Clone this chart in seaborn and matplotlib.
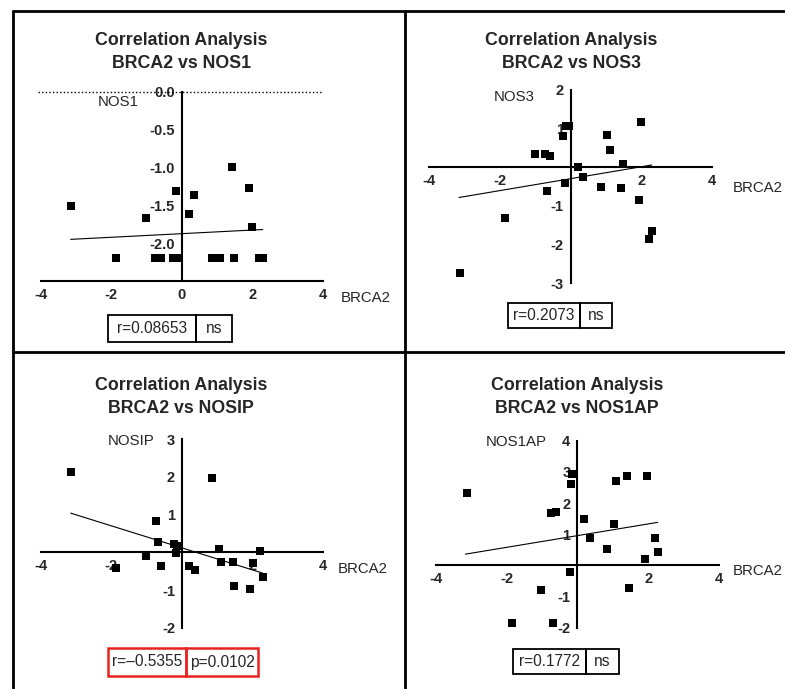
import numpy as np
import seaborn as sns
import matplotlib.pyplot as plt
from matplotlib.lines import Line2D
from matplotlib.patches import Rectangle

# BRCA2 vs NOS1
brca2_nos1 = [-3.15, -1.86, -1.01, -0.75, -0.6, -0.25, -0.1, -0.15, 0.36, 0.21,
              0.85, 1.0, 1.1, 1.43, 1.47, 1.92, 2.0, 2.19, 2.3]
nos1 = [-1.51, -2.19, -1.67, -2.19, -2.19, -2.19, -2.19, -1.31, -1.36, -1.62,
        -2.19, -2.19, -2.19, -0.99, -2.19, -1.27, -1.79, -2.19, -2.19]
fit_nos1_x = [-3.15, 2.3]
fit_nos1_y = [-1.95, -1.82]

# BRCA2 vs NOS3
brca2_nos3 = [-3.13, -1.84, -1.02, -0.72, -0.58, -0.67, -0.21, -0.13, -0.06, -0.17,
              0.21, 0.35, 0.86, 1.04, 1.1, 1.42, 1.47, 1.92, 2.0, 2.2, 2.29]
nos3 = [-2.73, -1.32, 0.34, 0.34, 0.28, -0.62, 0.82, 1.06, 1.06, -0.4,
        0.01, -0.24, -0.51, 0.84, 0.46, -0.54, 0.09, -0.84, 1.16, -1.85, -1.66]
fit_nos3_x = [-3.15, 2.29]
fit_nos3_y = [-0.78, 0.06]

# BRCA2 vs NOSIP
brca2_nosip = [-3.15, -1.88, -1.02, -0.74, -0.67, -0.59, -0.22, -0.13, -0.16, 0.21,
               0.36, 0.85, 1.05, 1.09, 1.43, 1.47, 1.92, 2.0, 2.21, 2.29]
nosip = [2.14, -0.42, -0.09, 0.84, 0.27, -0.35, 0.21, 0.16, -0.03, -0.35,
         -0.48, 1.96, 0.08, -0.25, -0.25, -0.9, -0.98, -0.28, 0.04, -0.65]
fit_nosip_x = [-3.15, 2.28]
fit_nosip_y = [1.04, -0.55]

# BRCA2 vs NOS1AP
brca2_nos1ap = [-3.13, -1.85, -1.02, -0.74, -0.61, -0.68, -0.15, -0.17, -0.22, 0.18,
                0.36, 0.85, 1.03, 1.08, 1.41, 1.45, 1.92, 1.98, 2.19, 2.27]
nos1ap = [2.33, -1.86, -0.79, 1.67, 1.72, -1.84, 2.92, 2.62, -0.22, 1.49,
          0.87, 0.52, 1.32, 2.71, 2.88, -0.72, 0.22, 2.88, 0.87, 0.42]
fit_nos1ap_x = [-3.16, 2.27]
fit_nos1ap_y = [0.36, 1.38]

genes = ['NOS1', 'NOS3', 'NOSIP', 'NOS1AP']
r_text = ['r=0.08653', 'r=0.2073', 'r=\u20130.5355', 'r=0.1772']
p_text = ['ns', 'ns', 'p=0.0102', 'ns']

sns.set_style('white')
plt.rcParams['font.family'] = ['Liberation Sans', 'DejaVu Sans']
plt.rcParams['axes.unicode_minus'] = False

W, H = 785, 689
fig = plt.figure(figsize=(W / 100, H / 100), dpi=100)


def fx(x):
    return x / W


def fy(y):
    return 1 - y / H


def add_panel(box, xs, ys, fitx, fity, ylim, yticks, xticks, ylabel_pos,
              xlabel_pos, title_pos, gene):
    left, right, top, bottom = box
    ax = fig.add_axes([fx(left), fy(bottom), fx(right - left), (bottom - top) / H])
    sns.scatterplot(x=xs, y=ys, ax=ax, marker='s', s=34, color='black',
                    linewidth=0, clip_on=False, zorder=3)
    sns.lineplot(x=fitx, y=fity, ax=ax, color='black', linewidth=0.8)
    ax.set_xlim(-4, 4)
    ax.set_ylim(*ylim)
    ax.set_xticks(xticks)
    ax.set_yticks(yticks)
    ax.patch.set_alpha(0)
    for s in ['top', 'right']:
        ax.spines[s].set_visible(False)
    ax.spines['left'].set_position(('data', 0))
    if ylim[0] < 0 < ylim[1]:
        ax.spines['bottom'].set_position(('data', 0))
    for s in ['left', 'bottom']:
        ax.spines[s].set_linewidth(1.5)
        ax.spines[s].set_color('black')
    ax.tick_params(direction='out', length=4, width=1.5, color='black',
                   labelsize=10.5, pad=1)
    for lab in ax.get_xticklabels() + ax.get_yticklabels():
        lab.set_fontweight('bold')
    ax.set_xlabel('')
    ax.set_ylabel('')
    fig.text(fx(ylabel_pos[0]), fy(ylabel_pos[1]), gene, ha='center', va='center',
             fontsize=10.8)
    fig.text(fx(xlabel_pos[0]), fy(xlabel_pos[1]), 'BRCA2', ha='center', va='center',
             fontsize=10.8)
    fig.text(fx(title_pos[0]), fy(title_pos[1]),
             'Correlation Analysis\nBRCA2 vs ' + gene, ha='center', va='center',
             fontsize=12.8, fontweight='bold', linespacing=1.4)
    return ax


ax1 = add_panel((40.7, 322.7, 91.7, 281), brca2_nos1, nos1, fit_nos1_x, fit_nos1_y,
                (-2.5, 0), [0, -0.5, -1.0, -1.5, -2.0], [-4, -2, 0, 2, 4],
                (118, 102), (366, 298), (181, 52), genes[0])
ax1.yaxis.set_major_formatter(plt.FormatStrFormatter('%.1f'))
for lab in ax1.get_yticklabels():
    lab.set_fontweight('bold')
ax1.axhline(0, xmin=-0.01, xmax=1.0, color='black', linestyle=(0, (1, 1.6)),
            linewidth=1, clip_on=False)

add_panel((429, 712.3, 90, 283.3), brca2_nos3, nos3, fit_nos3_x, fit_nos3_y,
          (-3, 2), [2, 1, -1, -2, -3], [-4, -2, 2, 4],
          (514, 97), (758, 188), (571, 52), genes[1])
add_panel((40.7, 323.3, 439.3, 627.7), brca2_nosip, nosip, fit_nosip_x, fit_nosip_y,
          (-2, 3), [3, 2, 1, -1, -2], [-4, -2, 2, 4],
          (131, 441), (363, 569), (181, 397), genes[2])
add_panel((435.7, 719, 440.7, 627.7), brca2_nos1ap, nos1ap, fit_nos1ap_x, fit_nos1ap_y,
          (-2, 4), [4, 3, 2, 1, -1, -2], [-4, -2, 2, 4],
          (516, 442), (758, 571), (577, 397), genes[3])

# stat boxes: (left, divider, right, top, bottom, colour)
boxes = [(108, 196, 232, 315, 342, 'black'),
         (508, 580, 612, 303, 328, 'black'),
         (108, 186, 258, 648, 676, '#e8231f'),
         (513, 586, 619, 649, 674, 'black')]
for (l, d, r, t, b, c), rt, pt in zip(boxes, r_text, p_text):
    lw = 1.8 if c != 'black' else 1.3
    for a, z in [(l, d), (d, r)]:
        fig.add_artist(Rectangle((fx(a), fy(b)), (z - a) / W, (b - t) / H,
                                 fill=False, edgecolor=c, linewidth=lw,
                                 transform=fig.transFigure))
    fig.text(fx((l + d) / 2), fy((t + b) / 2), rt, ha='center', va='center', fontsize=11.2)
    fig.text(fx((d + r) / 2), fy((t + b) / 2), pt, ha='center', va='center', fontsize=11.2)

# panel grid lines
grid_lines = [((13, 785), (11, 11)), ((13, 13), (11, 689)),
              ((405, 405), (11, 689)), ((13, 785), (352, 352))]
for xs, ys in grid_lines:
    fig.add_artist(Line2D([fx(v) for v in xs], [fy(v) for v in ys], color='black',
                          linewidth=2, transform=fig.transFigure))

fig.savefig('out.png', dpi=100)
